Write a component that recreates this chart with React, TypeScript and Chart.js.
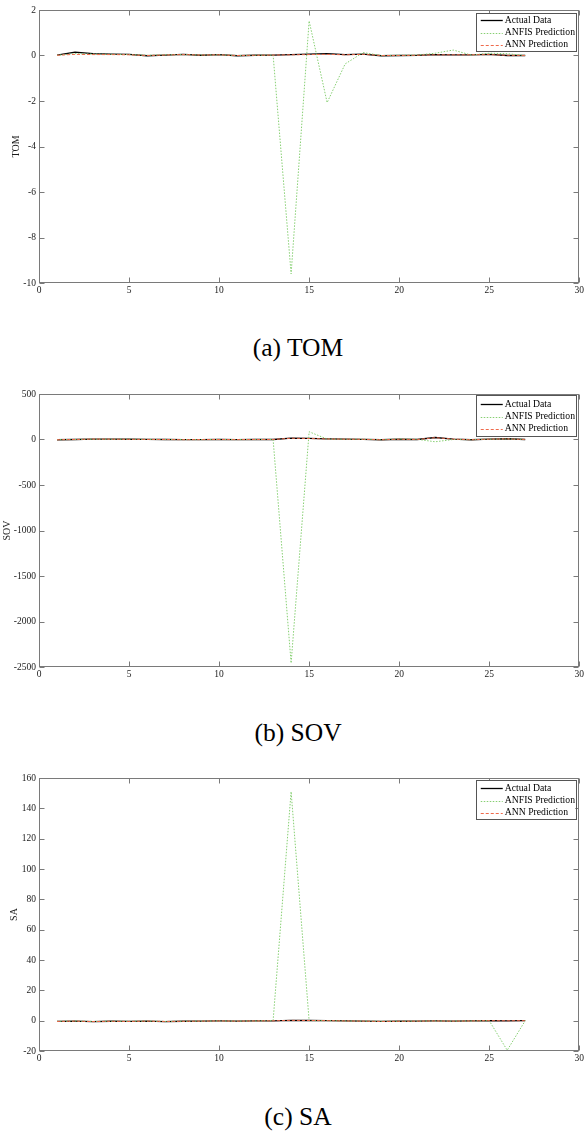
import React, { useEffect, useRef } from "react";
import { Chart, registerables } from "chart.js";

Chart.register(...registerables);

const xValues = [1, 2, 3, 4, 5, 6, 7, 8, 9, 10, 11, 12, 13, 14, 15, 16, 17, 18, 19, 20, 21, 22, 23, 24, 25, 26, 27];
const xTicks = [0, 5, 10, 15, 20, 25, 30];

const tomActual = [0.02, 0.15, 0.08, 0.06, 0.05, -0.01, 0.02, 0.05, 0.01, 0.04, -0.01, 0.01, 0.02, 0.04, 0.06, 0.08, 0.04, 0.06, -0.01, 0.0, 0.01, 0.04, 0.03, 0.03, 0.05, 0.0, 0.0];
const tomAnfis = [0.01, 0.08, 0.06, 0.05, 0.04, 0.01, 0.03, 0.04, 0.02, 0.03, 0.0, 0.01, 0.02, -9.6, 1.52, -2.07, -0.37, 0.13, 0.0, 0.01, 0.02, 0.1, 0.24, 0.02, 0.1, 0.08, 0.0];
const tomAnn = [0.01, 0.05, 0.04, 0.04, 0.03, 0.0, 0.02, 0.04, 0.02, 0.03, 0.0, 0.01, 0.02, 0.03, 0.04, 0.05, 0.03, 0.05, 0.0, 0.0, 0.01, 0.03, 0.03, 0.03, 0.04, 0.01, 0.0];
const tomYTicks = [-10, -8, -6, -4, -2, 0, 2];

const sovActual = [-3, 0, 5, 4, 3, 1, 0, -2, -1, 0, -1, 0, 0, 15, 12, 6, 4, 2, -3, 3, 0, 22, 5, -3, 4, 8, 0];
const sovAnfis = [-2, 0, 4, 3, 3, 1, 0, -1, -1, 0, -1, 0, 0, -2457, 85, 5, 3, 2, -2, 5, 2, -25, 0, -2, 3, 6, 0];
const sovAnn = [-3, 0, 5, 4, 2, 1, 0, -2, -1, 0, -1, 0, 0, 14, 11, 6, 4, 2, -3, 3, 0, 20, 5, -3, 4, 7, 0];
const sovYTicks = [-2500, -2000, -1500, -1000, -500, 0, 500];

const saActual = [-0.5, -0.3, -0.6, -0.4, -0.5, -0.3, -0.6, -0.4, -0.3, -0.2, -0.3, -0.2, -0.1, 0.2, 0.1, 0.0, -0.2, -0.3, -0.5, -0.4, -0.3, -0.2, -0.3, -0.2, 0.0, -0.1, 0.0];
const saAnfis = [-0.4, -0.3, -0.5, -0.4, -0.4, -0.3, -0.5, -0.4, -0.3, -0.2, -0.3, -0.2, 0.0, 151, 0.0, 0.0, -0.2, -0.3, -0.4, -0.4, -0.3, -0.2, -0.3, -0.2, 0.0, -19.5, 0.0];
const saAnn = [-0.5, -0.3, -0.6, -0.4, -0.5, -0.3, -0.5, -0.4, -0.3, -0.2, -0.3, -0.2, -0.1, 0.2, 0.1, 0.0, -0.2, -0.3, -0.5, -0.4, -0.3, -0.2, -0.3, -0.2, 0.0, -0.1, 0.0];
const saYTicks = [-20, 0, 20, 40, 60, 80, 100, 120, 140, 160];

const seriesLabels = ["Actual Data", "ANFIS Prediction", "ANN Prediction"];
const captions = ["(a) TOM", "(b) SOV", "(c) SA"];
const yLabels = ["TOM", "SOV", "SA"];

const FONT = "'Liberation Serif', 'Times New Roman', serif";
const GREEN = "#86cf72";
const RED = "#ef6a4c";
const FRAME = "#7a7a7a";

const lineColors = ["#000000", GREEN, RED];
const lineWidths = [1.3, 1, 1];
const lineDashes = [[], [1.5, 1.5], [3, 2]];

const framePlugin = {
  id: "frame",
  afterDraw(chart: any) {
    const { ctx, chartArea: a, scales } = chart;
    ctx.save();
    ctx.strokeStyle = FRAME;
    ctx.lineWidth = 1;
    ctx.setLineDash([]);
    const L = Math.round(a.left) + 0.5;
    const R = Math.round(a.right) - 0.5;
    const T = Math.round(a.top) + 0.5;
    const B = Math.round(a.bottom) - 0.5;
    ctx.strokeRect(L, T, R - L, B - T);
    const tl = 5;
    ctx.beginPath();
    scales.x.ticks.forEach((t: any) => {
      const px = Math.round(scales.x.getPixelForValue(t.value)) + 0.5;
      ctx.moveTo(px, B);
      ctx.lineTo(px, B - tl);
      ctx.moveTo(px, T);
      ctx.lineTo(px, T + tl);
    });
    scales.y.ticks.forEach((t: any) => {
      const py = Math.round(scales.y.getPixelForValue(t.value)) + 0.5;
      ctx.moveTo(L, py);
      ctx.lineTo(L + tl, py);
      ctx.moveTo(R, py);
      ctx.lineTo(R - tl, py);
    });
    ctx.stroke();
    ctx.restore();
  },
};

const legendPlugin = {
  id: "boxLegend",
  afterDraw(chart: any, _args: any, opts: any) {
    const { ctx, chartArea: a } = chart;
    const boxTop = a.top + (opts.boxTop ?? 2);
    const boxBottom = a.top + 41.5;
    const boxLeft = a.right - 103.5;
    const boxRight = a.right - 4;
    ctx.save();
    ctx.fillStyle = "#ffffff";
    ctx.fillRect(boxLeft, boxTop, boxRight - boxLeft, boxBottom - boxTop);
    ctx.strokeStyle = "#555555";
    ctx.lineWidth = 1;
    ctx.setLineDash([]);
    ctx.strokeRect(Math.round(boxLeft) + 0.5, Math.round(boxTop) + 0.5, Math.round(boxRight - boxLeft), Math.round(boxBottom - boxTop));
    ctx.font = `9.7px ${FONT}`;
    ctx.textBaseline = "middle";
    ctx.textAlign = "left";
    const rows = [10.3, 22.5, 34.5];
    const ds = chart.data.datasets;
    for (let i = 0; i < ds.length; i++) {
      const y = Math.round(a.top + rows[i]) + 0.5;
      ctx.strokeStyle = lineColors[i];
      ctx.lineWidth = i === 0 ? 1.3 : 1.2;
      ctx.setLineDash(lineDashes[i]);
      ctx.beginPath();
      ctx.moveTo(boxLeft + 5, y);
      ctx.lineTo(boxLeft + 27, y);
      ctx.stroke();
      ctx.setLineDash([]);
      ctx.fillStyle = "#000000";
      ctx.fillText(ds[i].label, boxLeft + 29, a.top + rows[i]);
    }
    ctx.restore();
  },
};

type PanelProps = {
  series: number[][];
  yTicks: number[];
  yLabel: string;
  titlePad: number;
  boxTop: number;
  top: number;
};

function Panel({ series, yTicks, yLabel, titlePad, boxTop, top }: PanelProps) {
  const ref = useRef<HTMLCanvasElement | null>(null);
  useEffect(() => {
    if (!ref.current) return;
    const tickFont = { family: FONT, size: 9.5 };
    const chart = new Chart(ref.current, {
      type: "line",
      data: {
        datasets: series.map((vals, i) => ({
          label: seriesLabels[i],
          data: xValues.map((x, j) => ({ x, y: vals[j] })),
          borderColor: lineColors[i],
          borderWidth: lineWidths[i],
          borderDash: lineDashes[i].slice(),
          pointRadius: 0,
          tension: 0,
          fill: false,
          order: 3 - i,
        })),
      },
      options: {
        animation: false,
        responsive: false,
        maintainAspectRatio: false,
        devicePixelRatio: 1,
        layout: { padding: { top: 10, right: 3, left: 0, bottom: 0 } },
        plugins: {
          legend: { display: false },
          tooltip: { enabled: false },
          boxLegend: { boxTop },
        } as any,
        scales: {
          x: {
            type: "linear",
            min: 0,
            max: 30,
            afterBuildTicks: (s: any) => {
              s.ticks = xTicks.map((v) => ({ value: v }));
            },
            afterFit: (s: any) => {
              s.height = 17;
            },
            grid: { display: false, drawTicks: false },
            border: { display: false },
            ticks: {
              autoSkip: false,
              maxRotation: 0,
              padding: 2,
              color: "#1a1a1a",
              font: tickFont,
              callback: (v: any) => String(v),
            },
          },
          y: {
            type: "linear",
            min: yTicks[0],
            max: yTicks[yTicks.length - 1],
            afterBuildTicks: (s: any) => {
              s.ticks = yTicks.map((v) => ({ value: v }));
            },
            afterFit: (s: any) => {
              s.width = 39;
            },
            grid: { display: false, drawTicks: false },
            border: { display: false },
            ticks: {
              autoSkip: false,
              padding: 3,
              color: "#1a1a1a",
              font: tickFont,
              callback: (v: any) => String(v),
            },
            title: {
              display: true,
              text: yLabel,
              color: "#1a1a1a",
              font: { family: FONT, size: 10 },
              padding: { top: titlePad, bottom: 0 },
            },
          },
        },
      } as any,
      plugins: [framePlugin, legendPlugin],
    });
    return () => chart.destroy();
  }, []);
  return (
    <canvas
      ref={ref}
      width={586}
      height={300}
      style={{ position: "absolute", left: 0, top, width: 586, height: 300 }}
    />
  );
}

export default function App() {
  const panels = [
    { series: [tomActual, tomAnfis, tomAnn], yTicks: tomYTicks, titlePad: 10, boxTop: 3.3, top: 0 },
    { series: [sovActual, sovAnfis, sovAnn], yTicks: sovYTicks, titlePad: 1, boxTop: 1, top: 384 },
    { series: [saActual, saAnfis, saAnn], yTicks: saYTicks, titlePad: 8, boxTop: 2.4, top: 768 },
  ];
  const captionTops = [335, 720, 1104];
  return (
    <div style={{ position: "absolute", left: 0, top: 0, width: 586, height: 1133, background: "#fff", overflow: "hidden" }}>
      {panels.map((p, i) => (
        <React.Fragment key={i}>
          <Panel series={p.series} yTicks={p.yTicks} yLabel={yLabels[i]} titlePad={p.titlePad} boxTop={p.boxTop} top={p.top} />
          <div
            style={{
              position: "absolute",
              left: 298,
              top: captionTops[i],
              transform: "translateX(-50%)",
              fontFamily: FONT,
              fontSize: 25.5,
              lineHeight: 1,
              whiteSpace: "nowrap",
              color: "#000",
            }}
          >
            {captions[i]}
          </div>
        </React.Fragment>
      ))}
    </div>
  );
}
